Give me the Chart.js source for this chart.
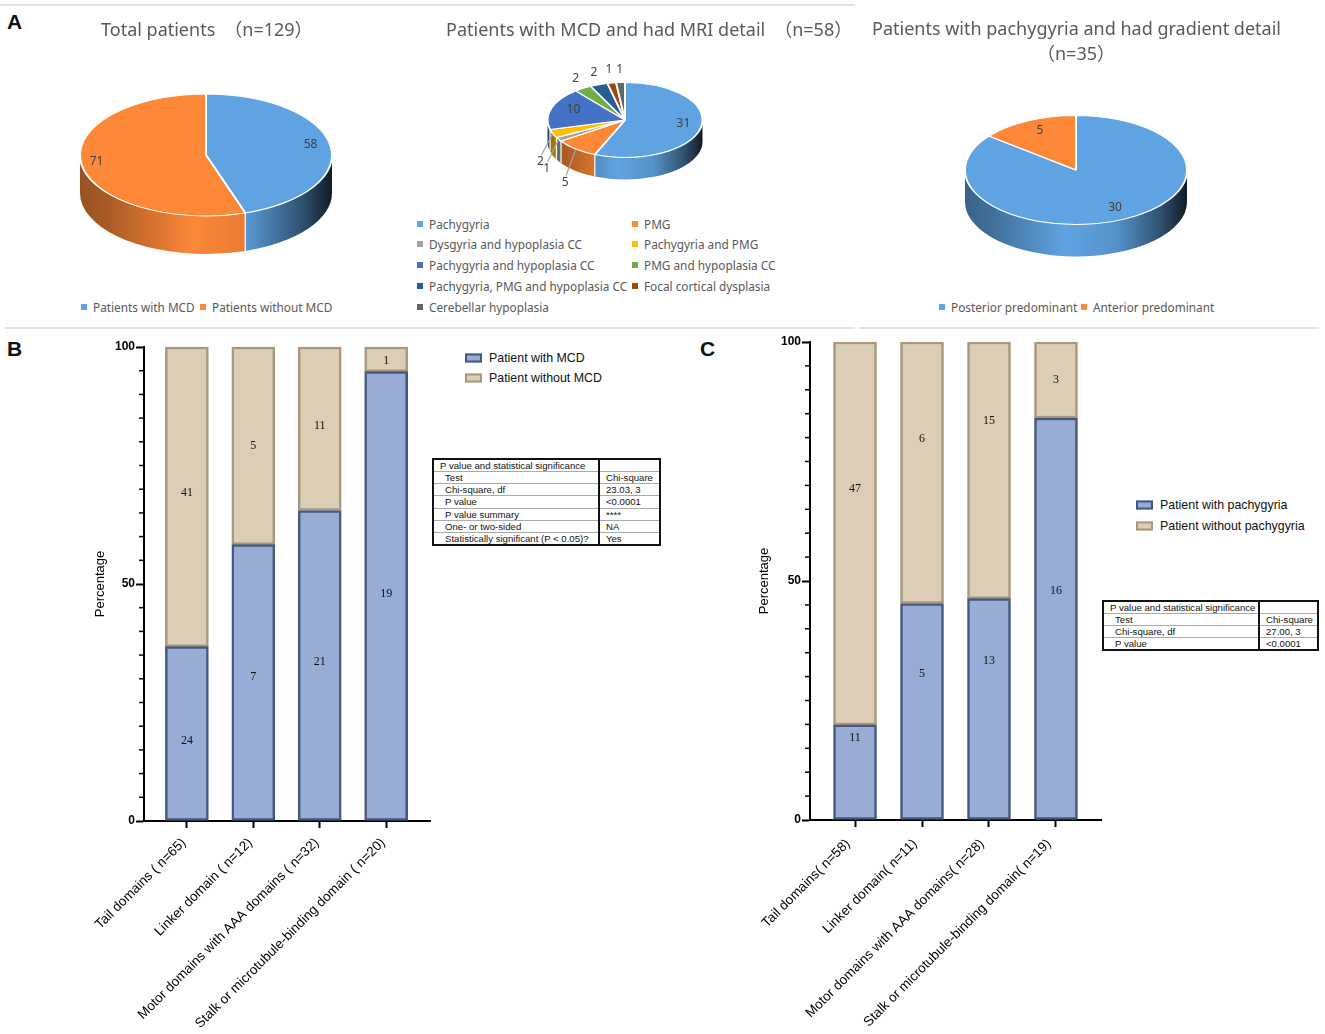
<!DOCTYPE html>
<html lang="en">
<head>
<meta charset="utf-8">
<script src="https://cdn.jsdelivr.net/npm/chart.js@4"></script>
<style>
  html, body { margin: 0; padding: 0; background: #fff; }
  #page { position: relative; width: 1325px; height: 1034px; overflow: hidden; font-family: "Liberation Sans", Arial, sans-serif; }
  canvas { position: absolute; }
  .abs { position: absolute; white-space: nowrap; line-height: 1; }
  .rule { position: absolute; height: 2px; background: #e2e2e2; }
  .letter { font: bold 21px "Liberation Sans", Arial, sans-serif; color: #111; transform: translateY(-50%); }
  .ptitle { font: 18px "Noto Sans", "Noto Sans CJK SC", sans-serif; color: #595959; transform: translateY(-50%); }
  .plegend { font: 11.8px "Noto Sans", sans-serif; color: #595959; transform: translateY(-50%); }
  .pswatch { position: absolute; width: 6px; height: 6px; transform: translateY(-50%); }
  .blegend { font: 12.4px "Liberation Sans", Arial, sans-serif; color: #111; transform: translateY(-50%); }
  .bswatch { position: absolute; width: 13px; height: 5px; border: 2px solid; transform: translateY(-50%); }
  table.stats { position: absolute; border-collapse: collapse; table-layout: fixed; border: 2px solid #111; font: 9.6px "Liberation Sans", Arial, sans-serif; color: #111; }
  table.stats td { padding: 0; border-bottom: 1px solid #aaa; white-space: nowrap; overflow: hidden; }
  table.stats td + td { border-left: 2px solid #111; padding-left: 6px; }
</style>
</head>
<body>
<div id="page">
  <canvas id="pieTotal" width="272" height="272" style="left:70px;top:19px"></canvas>
  <canvas id="pieMri" width="176" height="176" style="left:536.5px;top:31.5px"></canvas>
  <canvas id="pieGradient" width="242" height="242" style="left:955px;top:48.5px"></canvas>
  <canvas id="barB" width="346" height="699" style="left:85px;top:335px"></canvas>
  <canvas id="barC" width="352" height="704" style="left:750px;top:330px"></canvas>
</div>
<script>
// Painel A - pizzas
const totalLabels = ["Patients with MCD", "Patients without MCD"];
const totalValues = [58, 71];
const mriLabels = ["Pachygyria", "PMG", "Dysgyria and hypoplasia CC", "Pachygyria and PMG", "Pachygyria and hypoplasia CC", "PMG and hypoplasia CC", "Pachygyria, PMG and hypoplasia CC", "Focal cortical dysplasia", "Cerebellar hypoplasia"];
const mriValues = [31, 5, 1, 2, 10, 2, 2, 1, 1];
const gradientLabels = ["Posterior predominant", "Anterior predominant"];
const gradientValues = [30, 5];

// Painel B
const domainsB = ["Tail domains ( n=65)", "Linker domain ( n=12)", "Motor domains with AAA domains ( n=32)", "Stalk or microtubule-binding domain ( n=20)"];
const pctWithMCD = [36.8, 58.3, 65.5, 94.8];
const pctWithoutMCD = [63.2, 41.7, 34.5, 5.2];
const countWithMCD = [24, 7, 21, 19];
const countWithoutMCD = [41, 5, 11, 1];

// Painel C
const domainsC = ["Tail domains( n=58)", "Linker domain( n=11)", "Motor domains with AAA domains( n=28)", "Stalk or microtubule-binding domain( n=19)"];
const pctWithPachy = [19.9, 45.3, 46.3, 84.1];
const pctWithoutPachy = [80.1, 54.7, 53.7, 15.9];
const countWithPachy = [11, 5, 13, 16];
const countWithoutPachy = [47, 6, 15, 3];

const statsB = [["P value and statistical significance", ""], ["Test", "Chi-square"], ["Chi-square, df", "23.03, 3"], ["P value", "<0.0001"], ["P value summary", "****"], ["One- or two-sided", "NA"], ["Statistically significant (P < 0.05)?", "Yes"]];
const statsC = [["P value and statistical significance", ""], ["Test", "Chi-square"], ["Chi-square, df", "27.00, 3"], ["P value", "<0.0001"]];

const pieBlue = "#60a3e2", pieOrange = "#fd8838";
const mriColors = [pieBlue, pieOrange, "#a5a5a5", "#ffc000", "#4472c4", "#70ad47", "#255e91", "#9e480e", "#636363"];
const barBlue = "#98acd5", barBlueEdge = "#43597f", barTan = "#dccdb6", barTanEdge = "#a8977b";

// sombra da lateral: claro no meio, escuro nas pontas
function shade(hex, k) {
  const n = parseInt(hex.slice(1), 16);
  const c = [n >> 16, (n >> 8) & 255, n & 255].map(v => Math.round(v * k));
  return `rgb(${c[0]},${c[1]},${c[2]})`;
}

const pie3d = {
  id: "pie3d",
  beforeDatasetsDraw(chart, args, opts) {
    const ctx = chart.ctx;
    const arcs = chart.getDatasetMeta(0).data;
    const colors = chart.data.datasets[0].backgroundColor;
    const cx = arcs[0].x, cy = arcs[0].y, rx = arcs[0].outerRadius, ry = rx * opts.squash;
    arcs.forEach((arc, i) => {
      const a0 = Math.max(arc.startAngle, 0), a1 = Math.min(arc.endAngle, Math.PI);
      if (a1 <= a0) return;
      const g = ctx.createLinearGradient(cx - rx, 0, cx + rx, 0);
      [[0, .6], [.12, .68], [.45, 1], [.68, .9], [.88, .5], [1, .17]].forEach(s => g.addColorStop(s[0], shade(colors[i], s[1])));
      ctx.beginPath();
      ctx.ellipse(cx, cy, rx, ry, 0, a0, a1);
      ctx.ellipse(cx, cy + opts.depth, rx, ry, 0, a1, a0, true);
      ctx.closePath();
      ctx.fillStyle = g;
      ctx.fill();
      if (arc.startAngle > 0 && arc.startAngle < Math.PI) {
        const x = cx + rx * Math.cos(arc.startAngle), y = cy + ry * Math.sin(arc.startAngle);
        ctx.beginPath(); ctx.moveTo(x, y); ctx.lineTo(x, y + opts.depth);
        ctx.strokeStyle = "#fff"; ctx.lineWidth = 1.2; ctx.stroke();
      }
    });
    ctx.save();
    ctx.translate(0, cy);
    ctx.scale(1, opts.squash);
    ctx.translate(0, -cy);
  },
  afterDatasetsDraw(chart) { chart.ctx.restore(); },
  afterDraw(chart, args, opts) {
    const ctx = chart.ctx;
    const arcs = chart.getDatasetMeta(0).data;
    const values = chart.data.datasets[0].data;
    ctx.save();
    ctx.font = '12px "Noto Sans", sans-serif';
    ctx.textAlign = "center";
    ctx.textBaseline = "middle";
    arcs.forEach((arc, i) => {
      const mid = (arc.startAngle + arc.endAngle) / 2;
      const rx = arc.outerRadius, ry = rx * opts.squash;
      const f = opts.labelRadius[i], drop = opts.labelDrop[i];
      const x = arc.x + rx * f * Math.cos(mid), y = arc.y + ry * f * Math.sin(mid) + drop;
      if (opts.leaders && opts.leaders.includes(i)) {
        ctx.beginPath();
        ctx.moveTo(arc.x + rx * Math.cos(mid), arc.y + ry * Math.sin(mid));
        ctx.lineTo(x + 1, y - 7);
        ctx.strokeStyle = "#a6a6a6"; ctx.lineWidth = 1.2; ctx.stroke();
      }
      ctx.fillStyle = "#404040";
      ctx.fillText(values[i], x, y);
    });
    ctx.restore();
  }
};

function makePie(id, labels, values, colors, rx, pieOpts) {
  new Chart(document.getElementById(id), {
    type: "pie",
    data: { labels, datasets: [{ data: values, backgroundColor: colors, borderColor: "#fff", borderWidth: 2 }] },
    options: {
      responsive: false,
      animation: false,
      radius: rx,
      plugins: { legend: { display: false }, tooltip: { enabled: false }, pie3d: pieOpts }
    },
    plugins: [pie3d]
  });
}

makePie("pieTotal", totalLabels, totalValues, [pieBlue, pieOrange], 126, { squash: 61 / 126, depth: 38, labelRadius: [.84, .88], labelDrop: [-2, -2] });
makePie("pieMri", mriLabels, mriValues, mriColors, 77.5, {
  squash: 37.5 / 77.5, depth: 22,
  labelRadius: [.77, 1.22, 1.18, 1.17, .7, 1.18, 1.19, 1.22, 1.22],
  labelDrop: [-2, 27, 26, 26, -2, -4, -5, -5, -5],
  leaders: [1, 2, 3]
});
makePie("pieGradient", gradientLabels, gradientValues, [pieBlue, pieOrange], 111, { squash: 54.5 / 111, depth: 32, labelRadius: [.81, .75], labelDrop: [-2, -3] });

const barExtras = {
  id: "barExtras",
  afterDraw(chart, args, opts) {
    const ctx = chart.ctx;
    const y = chart.scales.y, x = chart.scales.x;
    ctx.save();
    ctx.strokeStyle = "#000";
    ctx.lineWidth = 1.5;
    for (let v = 0; v <= 100; v += 5) {
      if (v % 50 === 0) continue;
      const py = y.getPixelForValue(v);
      ctx.beginPath(); ctx.moveTo(chart.chartArea.left - 5, py); ctx.lineTo(chart.chartArea.left, py); ctx.stroke();
    }
    ctx.font = '12px "Liberation Serif", serif';
    ctx.fillStyle = "#111";
    ctx.textAlign = "center";
    ctx.textBaseline = "middle";
    opts.counts.forEach((list, s) => list.forEach((n, i) => {
      ctx.fillText(n, x.getPixelForValue(i), y.getPixelForValue(opts.labelAt[s][i]));
    }));
    ctx.restore();
  }
};

function makeBars(id, labels, names, lower, upper, range, yWidth, xHeight, extras, tickShift) {
  const axisFont = { family: '"Liberation Sans", Arial, sans-serif', size: 12 };
  const toPoints = list => list.map((v, i) => ({ x: i, y: v }));
  new Chart(document.getElementById(id), {
    type: "bar",
    data: {
      datasets: [
        { label: names[0], data: toPoints(lower), backgroundColor: barBlue, borderColor: barBlueEdge, borderWidth: 2.5, borderSkipped: false, barThickness: 43, clip: false },
        { label: names[1], data: toPoints(upper), backgroundColor: barTan, borderColor: barTanEdge, borderWidth: 2.5, borderSkipped: false, barThickness: 43, clip: false }
      ]
    },
    options: {
      responsive: false,
      animation: false,
      layout: { autoPadding: false, padding: { top: 12, left: 0, right: 0, bottom: 0 } },
      plugins: { legend: { display: false }, tooltip: { enabled: false }, barExtras: extras },
      scales: {
        x: {
          type: "linear", stacked: true, offset: false, min: range[0], max: range[1],
          afterBuildTicks: axis => { axis.ticks = labels.map((l, i) => ({ value: i })); },
          afterFit: s => { s.height = xHeight; },
          border: { color: "#000", width: 2 },
          grid: { offset: false, drawOnChartArea: false, tickLength: 7, tickWidth: 2, tickColor: "#000" },
          ticks: { callback: v => labels[v], minRotation: 45, maxRotation: 45, padding: tickShift.down, labelOffset: tickShift.left, color: "#000", font: { ...axisFont, size: 13.5 }, autoSkip: false }
        },
        y: {
          stacked: true, min: 0, max: 100,
          afterFit: s => { s.width = yWidth; },
          border: { color: "#000", width: 2 },
          grid: { drawOnChartArea: false, tickLength: 8, tickWidth: 2, tickColor: "#000" },
          ticks: { stepSize: 50, padding: 1, color: "#000", font: { ...axisFont, weight: "bold" } },
          title: { display: true, text: "Percentage", color: "#000", font: { ...axisFont, size: 13 }, padding: { top: 7, bottom: 0 } }
        }
      }
    },
    plugins: [barExtras]
  });
}

makeBars("barB", domainsB, ["Patient with MCD", "Patient without MCD"], pctWithMCD, pctWithoutMCD, [-0.645, 3.675], 58, 213, {
  counts: [countWithMCD, countWithoutMCD],
  labelAt: [[17, 30.4, 33.5, 48], [69.2, 79.1, 83.3, 97]]
}, { down: 7, left: -3 });
makeBars("barC", domainsC, ["Patient with pachygyria", "Patient without pachygyria"], pctWithPachy, pctWithoutPachy, [-0.672, 3.687], 60, 214, {
  counts: [countWithPachy, countWithoutPachy],
  labelAt: [[17.2, 30.5, 33.3, 48], [69.2, 79.7, 83.5, 92]]
}, { down: 9, left: -7 });

// Textos, legendas e tabelas em HTML
const page = document.getElementById("page");
function addText(cls, text, x, y, center) {
  const d = document.createElement("div");
  d.className = "abs " + cls;
  d.textContent = text;
  d.style.left = x + "px";
  d.style.top = y + "px";
  if (center) d.style.transform = "translate(-50%,-50%)";
  page.appendChild(d);
  return d;
}
// o parentese largo precisa de um respiro a mais
function addTitle(head, tail, x, y) {
  const d = addText("ptitle", head, x, y);
  const s = document.createElement("span");
  s.style.marginLeft = "9px";
  s.textContent = tail;
  d.appendChild(s);
}
function addRule(x, y, w) {
  const d = document.createElement("div");
  d.className = "rule";
  d.style.cssText = `left:${x}px;top:${y}px;width:${w}px`;
  page.appendChild(d);
}
function addPieLegend(label, color, x, y) {
  const s = document.createElement("div");
  s.className = "pswatch";
  s.style.cssText = `left:${x}px;top:${y}px;background:${color}`;
  page.appendChild(s);
  addText("plegend", label, x + 12, y - 0.5);
}
function addBarLegend(label, fill, edge, x, y, textX) {
  const s = document.createElement("div");
  s.className = "bswatch";
  s.style.cssText = `left:${x}px;top:${y}px;background:${fill};border-color:${edge}`;
  page.appendChild(s);
  addText("blegend", label, textX, y);
}
function addStats(rows, x, y, w, h, firstCol, headLeft, rowLeft) {
  const t = document.createElement("table");
  t.className = "stats";
  t.style.cssText = `left:${x}px;top:${y}px;width:${w}px;height:${h}px`;
  t.innerHTML = `<colgroup><col style="width:${firstCol}px"><col></colgroup>` + rows.map((r, i) =>
    `<tr><td style="padding-left:${i === 0 ? headLeft : rowLeft}px"></td><td></td></tr>`).join("");
  rows.forEach((r, i) => { t.rows[i].cells[0].textContent = r[0]; t.rows[i].cells[1].textContent = r[1]; });
  page.appendChild(t);
}

addRule(0, 4, 400); addRule(400, 4, 455); addRule(5, 327, 850); addRule(859, 327, 460);
addText("letter", "A", 7, 22);
addText("letter", "B", 7, 349);
addText("letter", "C", 700, 349);

addTitle("Total patients", "（n=129）", 101, 28);
addTitle("Patients with MCD and had MRI detail", "（n=58）", 446, 28);
addText("ptitle", "Patients with pachygyria and had gradient detail", 872, 28);
addText("ptitle", "（n=35）", 1076, 52, true);

addPieLegend(totalLabels[0], pieBlue, 81, 307);
addPieLegend(totalLabels[1], pieOrange, 200, 307);
addPieLegend(gradientLabels[0], pieBlue, 939, 307);
addPieLegend(gradientLabels[1], pieOrange, 1081, 307);
const mriRowY = [224, 244, 265, 286, 307];
mriLabels.forEach((label, i) => addPieLegend(label, mriColors[i], i % 2 ? 632 : 417, mriRowY[Math.floor(i / 2)]));

addBarLegend("Patient with MCD", barBlue, barBlueEdge, 465, 358, 489);
addBarLegend("Patient without MCD", barTan, barTanEdge, 465, 378, 489);
addBarLegend("Patient with pachygyria", barBlue, barBlueEdge, 1136, 505, 1160);
addBarLegend("Patient without pachygyria", barTan, barTanEdge, 1136, 526, 1160);

addStats(statsB, 432, 458, 229, 88, 166, 6, 11);
addStats(statsC, 1102, 600, 217, 50, 156, 6, 11);
</script>
</body>
</html>
